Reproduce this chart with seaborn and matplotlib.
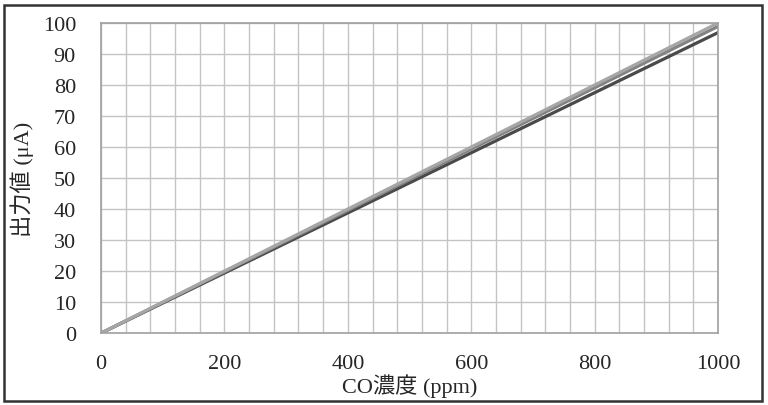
import numpy as np
import pandas as pd
import seaborn as sns
import matplotlib.pyplot as plt
from matplotlib.patches import Rectangle

# CO concentration (ppm) vs sensor output (uA), three sensors
co_ppm = [0, 1000]
sensor_a = [0, 96.9]
sensor_b = [0, 98.9]
sensor_c = [0, 100.0]
series_names = ['A', 'B', 'C']
# drawn dark first so the lightest trace ends up on top
line_colors = ['#4a4a4a', '#828282', '#a6a6a6']

x_ticks = [0, 200, 400, 600, 800, 1000]
y_ticks = [0, 10, 20, 30, 40, 50, 60, 70, 80, 90, 100]

sns.set_style('white')
plt.rcParams['font.family'] = ['Liberation Serif', 'Noto Sans CJK JP']

df = pd.DataFrame({
	'co': co_ppm * 3,
	'out': sensor_a + sensor_b + sensor_c,
	'sensor': [n for n in series_names for _ in co_ppm],
})

fig = plt.figure(figsize=(7.68, 4.06), dpi=100)
ax = fig.add_axes([0.1315, 0.177, 0.8035, 0.764])

# fine grid every 40 ppm / 10 uA
for xv in np.arange(0, 1001, 40):
	ax.axvline(xv, color='#c4c4c4', lw=1.0, zorder=0)
for yv in y_ticks:
	ax.axhline(yv, color='#c4c4c4', lw=1.0, zorder=0)

sns.lineplot(data=df, x='co', y='out', hue='sensor', palette=line_colors,
	linewidth=2.3, legend=False, ax=ax)

ax.set_xlim(0, 1000)
ax.set_ylim(0, 100)
ax.set_xticks(x_ticks)
ax.set_yticks(y_ticks)
ax.tick_params(axis='both', length=0, labelsize=16)
ax.tick_params(axis='y', pad=18)
ax.tick_params(axis='x', pad=15)
for s in ax.spines.values():
	s.set_color('#a0a0a0')
	s.set_linewidth(1.2)

ax.set_xlabel('CO濃度 (ppm)', fontsize=16, labelpad=0)
ax.set_ylabel('出力値 (μA)', fontsize=16, labelpad=6)

# frame around the whole figure
fig.patches.append(Rectangle((4 / 768, 4 / 406), 758 / 768, 396 / 406,
	transform=fig.transFigure, fill=False, edgecolor='#333333', lw=1.8))

plt.savefig('out.png', dpi=100)
